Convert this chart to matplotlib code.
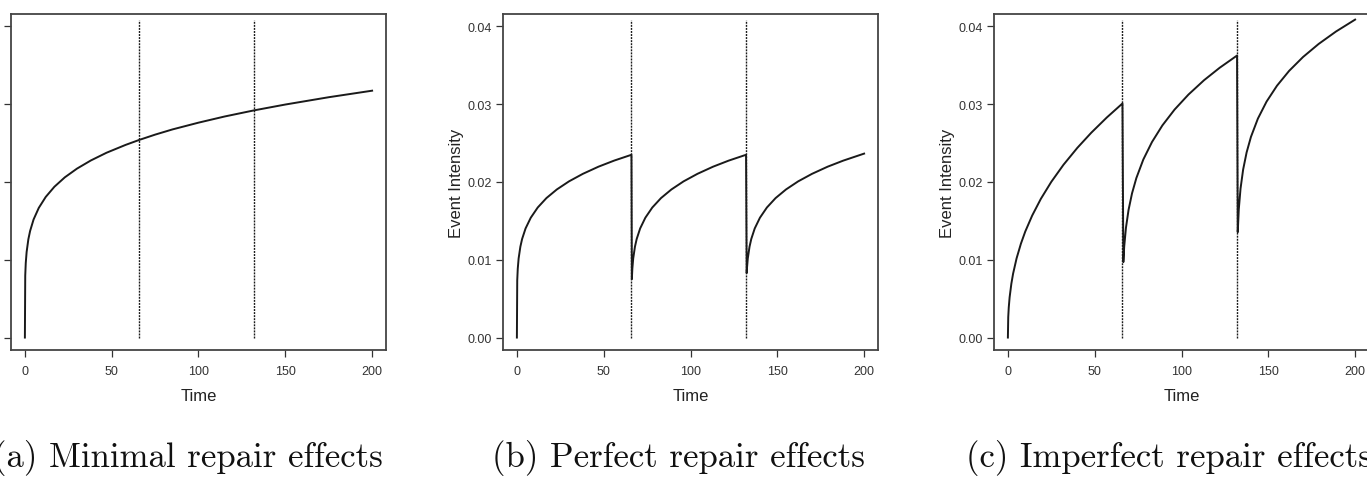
import matplotlib
matplotlib.use("Agg")
import matplotlib.pyplot as plt

plt.rcParams['font.family'] = ['Liberation Sans', 'DejaVu Sans']

# repair times (vertical dotted lines)
repair_times = [66, 132]
line_top = 0.0408

# (a) minimal repair
a_time = [0, 0.2, 0.5, 1, 2, 3, 5, 8, 12, 17, 23, 30, 38, 47, 58, 66, 75, 85,
          100, 115, 132, 150, 175, 200]
a_intensity = [0, 0.00797, 0.00958, 0.0110, 0.01264, 0.01370, 0.01518, 0.01667,
               0.01808, 0.01939, 0.02060, 0.02172, 0.02277, 0.02376, 0.02477,
               0.02542, 0.02609, 0.02676, 0.02763, 0.02842, 0.02921, 0.02996,
               0.03090, 0.03174]

# (b) perfect repair
b_time = [0, 0.2, 0.5, 1, 2, 3, 5, 8, 12, 17, 23, 30, 38, 47, 56, 66,
          66.22, 66.5, 67, 68, 69, 71, 74, 78, 83, 89, 96, 104, 113, 122, 132,
          132.36, 132.5, 133, 134, 135, 137, 140, 144, 149, 155, 162, 170, 179, 188, 200]
b_intensity = [0, 0.00737, 0.00885, 0.01017, 0.01168, 0.01267, 0.01403, 0.01541,
               0.01672, 0.01793, 0.01904, 0.02008, 0.02105, 0.02197, 0.02275, 0.02350,
               0.00751, 0.00885, 0.01017, 0.01168, 0.01267, 0.01403, 0.01541,
               0.01672, 0.01793, 0.01904, 0.02008, 0.02105, 0.02197, 0.02275, 0.02350,
               0.00829, 0.00885, 0.01017, 0.01168, 0.01267, 0.01403, 0.01541,
               0.01672, 0.01793, 0.01904, 0.02008, 0.02105, 0.02197, 0.02275, 0.02365]

# (c) imperfect repair
c_time = [0, 0.2, 0.5, 1, 2, 3, 5, 7.5, 10, 14, 19, 25, 32, 40, 48, 57, 66,
          66.5, 67, 68, 69.5, 71.5, 74, 78, 83, 89, 96, 104, 113, 122, 132,
          132.4, 133, 134, 135.5, 137.5, 140, 144, 149, 155, 162, 170, 179, 189, 200]
c_intensity = [0, 0.00263, 0.00387, 0.00518, 0.00693, 0.00822, 0.01018, 0.01207,
               0.01363, 0.01569, 0.01784, 0.02002, 0.02221, 0.02439, 0.02633,
               0.02830, 0.03010,
               0.00970, 0.01170, 0.01411, 0.01641, 0.01854, 0.02051, 0.02289,
               0.02514, 0.02728, 0.02931, 0.03124, 0.03309, 0.03469, 0.03626,
               0.01355, 0.01650, 0.01915, 0.02160, 0.02380, 0.02580, 0.02815,
               0.03034, 0.03238, 0.03429, 0.03607, 0.03775, 0.03935, 0.04088]

captions = ['(a) Minimal repair effects', '(b) Perfect repair effects',
            '(c) Imperfect repair effects']
x_ticks = [0, 50, 100, 150, 200]
y_ticks = [0.00, 0.01, 0.02, 0.03, 0.04]

fig = plt.figure(figsize=(13.67, 4.85), dpi=100)
lefts = [11 / 1367, 503 / 1367, 994 / 1367]
caption_x = [188 / 1367, 678 / 1367, 1169 / 1367]
data = [(a_time, a_intensity), (b_time, b_intensity), (c_time, c_intensity)]

for i in range(3):
    ax = fig.add_axes([lefts[i], 134 / 485, 375 / 1367, 336 / 485])
    t, y = data[i]
    ax.plot(t, y, color='#1a1a1a', lw=1.4)
    for rt in repair_times:
        ax.plot([rt, rt], [0, line_top], color='#1a1a1a', lw=1.0,
                linestyle=(0, (1.4, 0.8)))
    ax.set_xlim(-8, 208)
    ax.set_ylim(-0.0016, 0.0416)
    ax.set_xticks(x_ticks)
    ax.set_yticks(y_ticks)
    ax.set_xticklabels([str(v) for v in x_ticks])
    ax.set_yticklabels(['%.2f' % v for v in y_ticks])
    ax.tick_params(direction='out', length=5, width=0.9, labelsize=9,
                   colors='#333333', pad=6)
    ax.tick_params(axis='y', pad=3)
    for sp in ax.spines.values():
        sp.set_color('#444444')
        sp.set_linewidth(1.3)
    ax.set_xlabel('Time', fontsize=12, color='#222222', va='center')
    ax.xaxis.set_label_coords(0.5, -0.134)
    if i == 0:
        # left part of panel (a) is cropped off in the figure
        ax.tick_params(axis='y', labelleft=False)
    else:
        ax.set_ylabel('Event Intensity', fontsize=12, color='#222222', va='center')
        ax.yaxis.set_label_coords(-0.1227, 0.5)
    fig.text(caption_x[i], 18 / 485, captions[i], fontfamily='cmr10',
             fontsize=25, ha='center', va='baseline', color='#111111')

fig.savefig('out.png', dpi=100)
